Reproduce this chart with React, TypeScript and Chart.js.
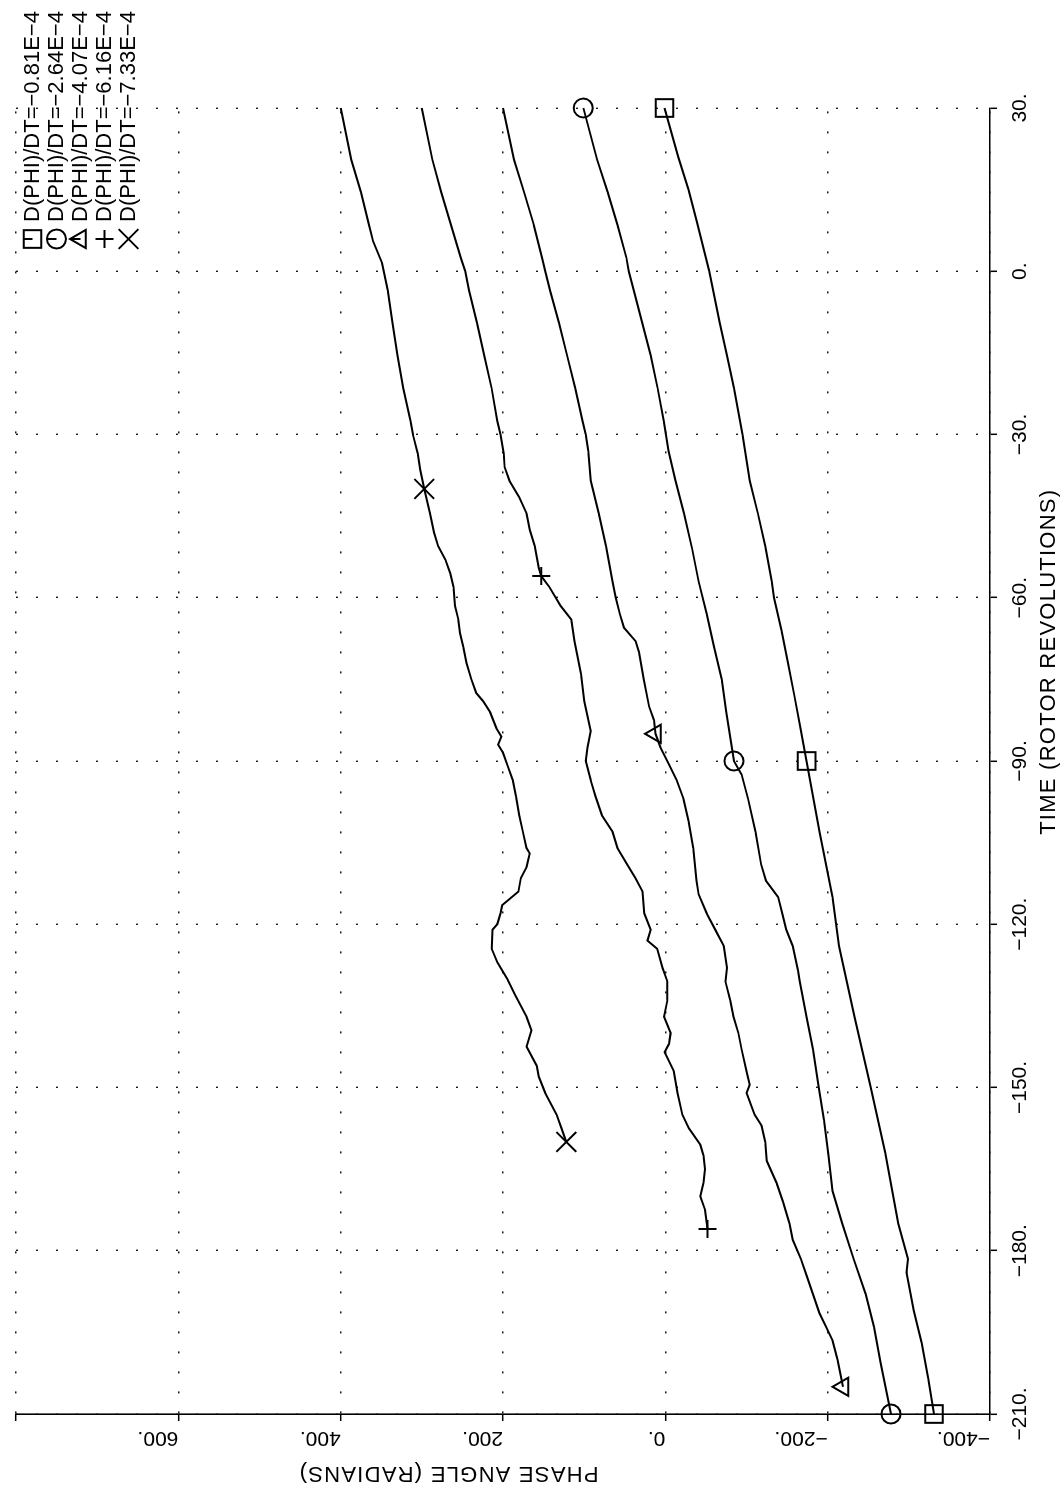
import React, { useEffect, useRef } from 'react';
import { Chart, registerables } from 'chart.js';

Chart.register(...registerables);

// The plot is laid out with time running left-to-right on the canvas, and the
// canvas is then turned a quarter turn counter-clockwise on the page.
const CANVAS_W = 1489;
const CANVAS_H = 1062;
const FONT = '"Liberation Sans", Arial, Helvetica, sans-serif';

const timeTitle = 'TIME (ROTOR REVOLUTIONS)';
const phaseTitle = 'PHASE ANGLE (RADIANS)';
const timeMin = -210;
const timeMax = 30;
const timeStep = 30;
const phaseMin = -400;
const phaseMax = 800;
const phaseStep = 200;
const unlabeledPhaseTicks = [800];

const rateLabels = [
  'D(PHI)/DT=\u22120.81E\u22124',
  'D(PHI)/DT=\u22122.64E\u22124',
  'D(PHI)/DT=\u22124.07E\u22124',
  'D(PHI)/DT=\u22126.16E\u22124',
  'D(PHI)/DT=\u22127.33E\u22124',
];

// D(PHI)/DT = -0.81E-4
const squareTime = [-210, -203.5, -197, -191, -184, -181.5, -175, -162, -150, -137, -124, -115, -109, -103, -96.5, -90, -84, -78, -72, -66, -60, -57, -50.5, -44.5, -38.5, -30, -21.5, -15.5, -9.5, 0, 9, 15, 21, 30];
const squarePhase = [-331, -324, -316, -306, -297, -299, -287, -271, -253, -233, -214, -206, -198, -190, -182, -174, -166.5, -159, -151, -143, -134, -131, -123, -114, -104, -95, -84.5, -76, -67, -54, -39, -28.5, -16, 1];
const squareMarks = [-210, -90, 30];

// D(PHI)/DT = -2.64E-4
const circleTime = [-210, -200.5, -194, -188, -181.5, -175, -169, -162.5, -156, -150, -143, -137, -130.5, -128.5, -124, -121, -118, -115, -112, -109, -103, -97, -92.5, -90, -81, -75, -69, -63, -57, -51, -44.5, -38.5, -33, -27.5, -21.5, -15.5, -9.5, -3.5, 0, 2.5, 8.5, 14.5, 20.5, 30];
const circlePhase = [-278, -265, -257, -247, -232, -218, -206, -201, -195.5, -189, -182, -174, -165.5, -163.5, -157, -149, -144, -139, -124, -118, -111, -102, -94, -84.5, -75, -69.5, -60, -51, -41, -33, -23, -12.5, -4, 2, 9.5, 18, 28.5, 39, 45, 48, 59, 71, 84, 101];
const circleMarks = [-210, -90, 30];

// D(PHI)/DT = -4.07E-4
const triangleTime = [-205, -200, -196.5, -194, -191.5, -188, -184.5, -181.5, -178, -175, -171, -167.5, -163.5, -160, -157, -155, -151, -149.5, -147, -143, -140, -137, -134, -130.5, -128, -124, -121, -118, -114.5, -112, -106, -101, -97, -93.5, -90.5, -87.5, -85, -82.5, -80, -75, -70, -68, -65.5, -63, -60, -57, -50.5, -44.5, -38.5, -33, -30, -27.5, -21.5, -15.5, -9.5, -3.5, 0, 2.5, 8.5, 14.5, 20.5, 30];
const trianglePhase = [-219, -212, -206, -198, -190, -182, -174, -167, -157, -153, -145, -137, -125, -123, -118.5, -110, -100, -104, -100, -94, -90, -84, -80, -74, -76, -72, -61.5, -51, -41, -38.5, -34.5, -28.5, -22.5, -14, -4, 6, 12, 14, 20, 26.5, 32.5, 36.5, 51, 56, 61, 65, 73, 82, 92, 95, 98, 102, 111, 121, 131, 142, 148, 152, 162, 174, 186.5, 200];
const triangleMarks = [-205, -85];

// D(PHI)/DT = -6.16E-4
const plusTime = [-176, -172.5, -170, -167.5, -165, -162.5, -160.5, -157.5, -155, -151, -147, -143.5, -142, -140, -137, -134, -130.5, -128, -124.5, -123, -121, -118, -114, -111.5, -109, -106, -103, -100, -96.5, -93.5, -90, -87.5, -84.5, -79, -74, -68, -64, -61.5, -58, -56, -54.5, -50.5, -47.5, -44.5, -41.5, -38.5, -36, -33.5, -30, -27.5, -21.5, -15.5, -9.5, -3.5, 0, 2.5, 8.5, 14.5, 20.5, 30];
const plusPhase = [-52, -49, -43, -47, -49, -47, -43, -29, -21, -15, -10.5, 1, -4.5, -6.5, 1.5, -2.5, -2.5, 3.5, 10, 22, 18, 26, 28, 37, 47, 59, 65, 78, 86, 92, 98, 96, 92, 100, 104, 112, 116, 129, 143, 153, 156, 161, 167, 171, 180, 192, 198, 199, 203, 207, 214, 223, 232, 242, 246.5, 252, 264, 276, 287, 300];
const plusMarks = [-176, -56];

// D(PHI)/DT = -7.33E-4
const crossTime = [-160, -157.5, -155, -151, -148, -146, -142.5, -139.5, -137, -133, -130, -127, -124.5, -121, -120, -118, -116.5, -114, -111.5, -109.5, -107, -106, -103, -100, -96.5, -93.5, -91, -88.5, -87, -85.5, -84, -81, -79, -77.5, -75, -72, -69, -66.5, -64, -61.5, -58, -55.5, -53, -50.5, -48, -44.5, -40, -36.5, -33.5, -30, -27.5, -21.5, -15.5, -9.5, -3.5, 0, 1.5, 5.5, 8.5, 14.5, 20.5, 30];
const crossPhase = [122, 128, 134, 148, 156, 158.5, 171, 165, 171, 185, 195, 207, 214, 213, 207, 203, 201, 181, 178, 171, 167, 171, 175.5, 180, 184, 188, 194, 200, 206, 202, 208, 216, 224.5, 233, 239, 245, 249, 253, 255, 259, 261, 265, 271, 280, 285, 290, 297, 302, 305, 311, 314, 323, 330, 336, 342, 347, 349, 360, 365, 375, 387, 400];
const crossMarks = [-160, -40];

type MarkStyle = 'rect' | 'circle' | 'triangle' | 'cross' | 'crossRot';

interface Series {
  label: string;
  time: number[];
  phase: number[];
  marks: number[];
  style: MarkStyle;
  radius: number;
}

const series: Series[] = [
  { label: rateLabels[0], time: squareTime, phase: squarePhase, marks: squareMarks, style: 'rect', radius: 12.5 },
  { label: rateLabels[1], time: circleTime, phase: circlePhase, marks: circleMarks, style: 'circle', radius: 9.5 },
  { label: rateLabels[2], time: triangleTime, phase: trianglePhase, marks: triangleMarks, style: 'triangle', radius: 10.5 },
  { label: rateLabels[3], time: plusTime, phase: plusPhase, marks: plusMarks, style: 'cross', radius: 9 },
  { label: rateLabels[4], time: crossTime, phase: crossPhase, marks: crossMarks, style: 'crossRot', radius: 14 },
];

function numberLabel(v: number): string {
  return (v < 0 ? '\u2212' + Math.abs(v) : String(v)) + '.';
}

function drawSymbol(ctx: CanvasRenderingContext2D, style: MarkStyle, x: number, y: number, r: number) {
  ctx.beginPath();
  if (style === 'rect') {
    const s = r * Math.SQRT1_2;
    ctx.rect(x - s, y - s, 2 * s, 2 * s);
    ctx.moveTo(x, y - s);
    ctx.lineTo(x, y);
  } else if (style === 'circle') {
    ctx.arc(x, y, r, 0, Math.PI * 2);
    ctx.moveTo(x, y - r);
    ctx.lineTo(x, y);
  } else if (style === 'triangle') {
    const a = (2 * Math.PI) / 3;
    ctx.moveTo(x, y - r);
    ctx.lineTo(x + Math.sin(a) * r, y - Math.cos(a) * r);
    ctx.lineTo(x + Math.sin(2 * a) * r, y - Math.cos(2 * a) * r);
    ctx.closePath();
    ctx.moveTo(x, y - r);
    ctx.lineTo(x, y);
  } else if (style === 'cross') {
    ctx.moveTo(x, y - r);
    ctx.lineTo(x, y + r);
    ctx.moveTo(x - r, y);
    ctx.lineTo(x + r, y);
  } else {
    const d = r * Math.SQRT1_2;
    ctx.moveTo(x - d, y - d);
    ctx.lineTo(x + d, y + d);
    ctx.moveTo(x - d, y + d);
    ctx.lineTo(x + d, y - d);
  }
  ctx.stroke();
}

// Phase-axis numbers (written along the axis, starting at each tick),
// axis titles and the key, placed relative to the chart area.
const titlesAndKey = {
  id: 'titlesAndKey',
  afterDraw(chart: Chart) {
    const { ctx, chartArea: a } = chart;
    const w = a.right - a.left;
    const h = a.bottom - a.top;
    const yScale: any = chart.scales.y;
    ctx.save();
    ctx.fillStyle = '#000';
    ctx.strokeStyle = '#000';
    ctx.lineWidth = 2;

    ctx.font = `21px ${FONT}`;
    ctx.textAlign = 'left';
    ctx.textBaseline = 'middle';
    yScale.ticks.forEach((t: any) => {
      if (unlabeledPhaseTicks.includes(t.value)) return;
      ctx.save();
      ctx.translate(a.left - 24, yScale.getPixelForValue(t.value));
      ctx.rotate(-Math.PI / 2);
      ctx.fillText(numberLabel(t.value), 0, 0);
      ctx.restore();
    });

    ctx.font = `22px ${FONT}`;
    (ctx as any).letterSpacing = '1.25px';
    ctx.textAlign = 'center';
    ctx.fillText(timeTitle, a.left + 0.576 * w, a.bottom + 59);

    ctx.save();
    ctx.translate(a.left - 59, a.top + 0.444 * h);
    ctx.rotate(-Math.PI / 2);
    ctx.fillText(phaseTitle, 0, 0);
    ctx.restore();

    (ctx as any).letterSpacing = '0px';
    ctx.textAlign = 'left';
    series.forEach((s, i) => {
      const cy = a.top + 16.5 + 24 * i;
      drawSymbol(ctx, s.style, a.right - 131, cy, s.radius);
      ctx.fillText(s.label, a.right - 114, cy);
    });
    ctx.restore();
  },
};

export default function App() {
  const canvasRef = useRef<HTMLCanvasElement>(null);

  useEffect(() => {
    const canvas = canvasRef.current;
    if (!canvas) return;

    const gridStyle = {
      color: '#1a1a1a',
      lineWidth: 1.4,
      drawTicks: true,
      tickLength: 7,
      tickColor: '#000',
      tickWidth: 1.5,
    };
    const borderStyle = { display: true, color: '#000', width: 1.6, dash: [2, 18] };

    const chart = new Chart(canvas, {
      type: 'line',
      data: {
        datasets: series.map((s) => ({
          label: s.label,
          data: s.time.map((t, i) => ({ x: t, y: s.phase[i] })),
          borderColor: '#000',
          borderWidth: 2,
          tension: 0,
          fill: false,
          pointStyle: s.style,
          pointRadius: s.time.map((t) => (s.marks.includes(t) ? s.radius : 0)),
          pointHoverRadius: 0,
          pointBorderColor: '#000',
          pointBorderWidth: 2,
          pointBackgroundColor: 'rgba(0,0,0,0)',
          clip: false as any,
        })),
      },
      options: {
        responsive: false,
        animation: false,
        events: [],
        layout: { padding: { left: 0, right: 108, top: 8, bottom: 0 } },
        plugins: {
          legend: { display: false },
          tooltip: { enabled: false },
        },
        scales: {
          x: {
            type: 'linear',
            position: 'bottom',
            min: timeMin,
            max: timeMax,
            ticks: {
              stepSize: timeStep,
              autoSkip: false,
              minRotation: 0,
              maxRotation: 0,
              padding: 11,
              color: '#000',
              font: { family: FONT, size: 21 },
              callback: (v: any) => numberLabel(Number(v)),
            },
            grid: gridStyle,
            border: borderStyle,
            afterFit: (scale: any) => {
              scale.height = 72;
              scale.paddingLeft = 0;
              scale.paddingRight = 0;
            },
          },
          y: {
            type: 'linear',
            position: 'left',
            min: phaseMin,
            max: phaseMax,
            ticks: {
              stepSize: phaseStep,
              autoSkip: false,
              display: false,
            },
            grid: gridStyle,
            border: borderStyle,
            afterFit: (scale: any) => {
              scale.width = 75;
              scale.paddingTop = 0;
              scale.paddingBottom = 0;
            },
          },
        },
      },
      plugins: [titlesAndKey as any],
    } as any);

    return () => chart.destroy();
  }, []);

  return (
    <div style={{ position: 'absolute', left: 0, top: 0, width: 1062, height: 1489, overflow: 'hidden', background: '#fff' }}>
      <canvas
        ref={canvasRef}
        width={CANVAS_W}
        height={CANVAS_H}
        style={{
          position: 'absolute',
          left: 0,
          top: 0,
          width: CANVAS_W,
          height: CANVAS_H,
          transformOrigin: '0 0',
          transform: `translate(0px, ${CANVAS_W}px) rotate(-90deg)`,
        }}
      />
    </div>
  );
}
